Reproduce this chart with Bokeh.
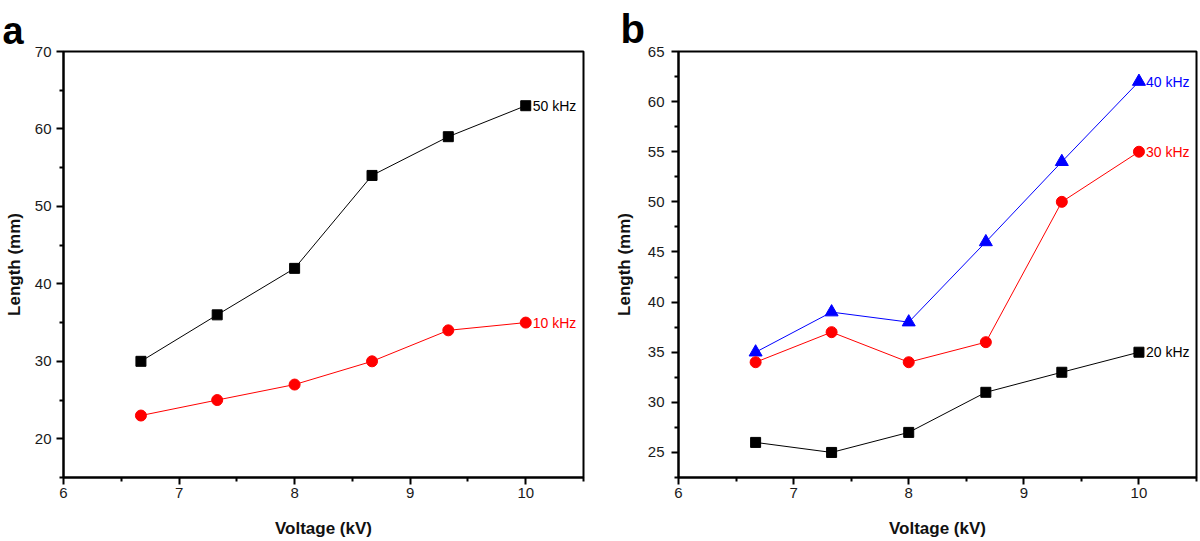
from bokeh.plotting import figure
from bokeh.layouts import row
from bokeh.models import FixedTicker, Range1d
from bokeh.embed import file_html
from bokeh.resources import INLINE
from bokeh.core.properties import value

# ---------------- data ----------------
voltage = [6.67, 7.33, 8.0, 8.67, 9.33, 10.0]

a_50khz = [30, 36, 42, 54, 59, 63]
a_10khz = [23, 25, 27, 30, 34, 35]

b_20khz = [26, 25, 27, 31, 33, 35]
b_30khz = [34, 37, 34, 36, 50, 55]
b_40khz = [35, 39, 38, 46, 54, 62]

x_ticks = [6, 7, 8, 9, 10]
x_minor = [6.5, 7.5, 8.5, 9.5, 10.5]
a_y_ticks = [20, 30, 40, 50, 60, 70]
a_y_minor = [15, 25, 35, 45, 55, 65]
b_y_ticks = [25, 30, 35, 40, 45, 50, 55, 60, 65]
b_y_minor = [22.5, 27.5, 32.5, 37.5, 42.5, 47.5, 52.5, 57.5, 62.5]

FONT = "Liberation Sans"
RED = "#ff0000"
BLUE = "#0000ff"
BLACK = "#000000"


def style(p, yt, ym, title_offset, title_standoff, title_size, lab_so, ax_so):
    p.xaxis.ticker = FixedTicker(ticks=x_ticks, minor_ticks=x_minor)
    p.yaxis.ticker = FixedTicker(ticks=yt, minor_ticks=ym)
    p.xgrid.visible = False
    p.ygrid.visible = False
    p.outline_line_color = "black"
    p.outline_line_width = 2
    p.outline_line_alpha = 1
    for ax in (p.xaxis, p.yaxis):
        ax.axis_line_width = 2
        ax.axis_line_color = "black"
        ax.major_tick_in = 0
        ax.major_tick_out = 7
        ax.minor_tick_in = 0
        ax.minor_tick_out = 4
        ax.major_tick_line_width = 2
        ax.minor_tick_line_width = 2
        ax.major_tick_line_color = "black"
        ax.minor_tick_line_color = "black"
        ax.major_label_text_font = FONT
        ax.major_label_text_font_size = "15px"
        ax.major_label_text_color = "#1a1a1a"
        ax.axis_label_text_font = FONT
        ax.axis_label_text_font_size = "17px"
        ax.axis_label_text_font_style = "bold"
        ax.axis_label_text_color = "#111111"
    p.xaxis.axis_label = "Voltage (kV)"
    p.yaxis.axis_label = "Length (mm)"
    p.xaxis.major_label_standoff = 3
    p.xaxis.axis_label_standoff = 18
    p.yaxis.major_label_standoff = lab_so
    p.yaxis.axis_label_standoff = ax_so
    p.background_fill_color = "white"
    p.border_fill_color = "white"
    p.title.text_font = FONT
    p.title.text_font_size = title_size
    p.title.text_font_style = "bold"
    p.title.text_color = "black"
    p.title.align = "left"
    p.title.offset = title_offset
    p.title.standoff = title_standoff


def series(p, ys, color, marker, size, label):
    p.line(voltage, ys, line_color=color, line_width=1)
    p.scatter(voltage, ys, marker=marker, size=size, fill_color=color,
              line_color=color)
    p.text([voltage[-1]], [ys[-1]], text=[label], x_offset=7,
           text_baseline="middle", text_align="left",
           text_font=value(FONT), text_font_size="14px", text_color=color)


# ---------------- panel a ----------------
p1 = figure(title="a", width=605, height=541, output_backend="svg",
            toolbar_location=None,
            x_range=Range1d(6, 10.5), y_range=Range1d(15, 70),
            min_border_left=63, min_border_right=22,
            min_border_top=48, min_border_bottom=64)
style(p1, a_y_ticks, a_y_minor, -61, 0, "38px", 5, 8)
series(p1, a_50khz, BLACK, "square", 10, "50 kHz")
series(p1, a_10khz, RED, "circle", 11, "10 kHz")

# ---------------- panel b ----------------
p2 = figure(title="b", width=595, height=541, output_backend="svg",
            toolbar_location=None,
            x_range=Range1d(6, 10.5), y_range=Range1d(22.5, 65),
            min_border_left=73, min_border_right=4,
            min_border_top=51, min_border_bottom=62)
style(p2, b_y_ticks, b_y_minor, -58, 1, "40px", 7, 11)
series(p2, b_40khz, BLUE, "triangle", 13, "40 kHz")
series(p2, b_30khz, RED, "circle", 11, "30 kHz")
series(p2, b_20khz, BLACK, "square", 10, "20 kHz")

layout = row(p1, p2)
open("out.html", "w").write(file_html(layout, INLINE))
